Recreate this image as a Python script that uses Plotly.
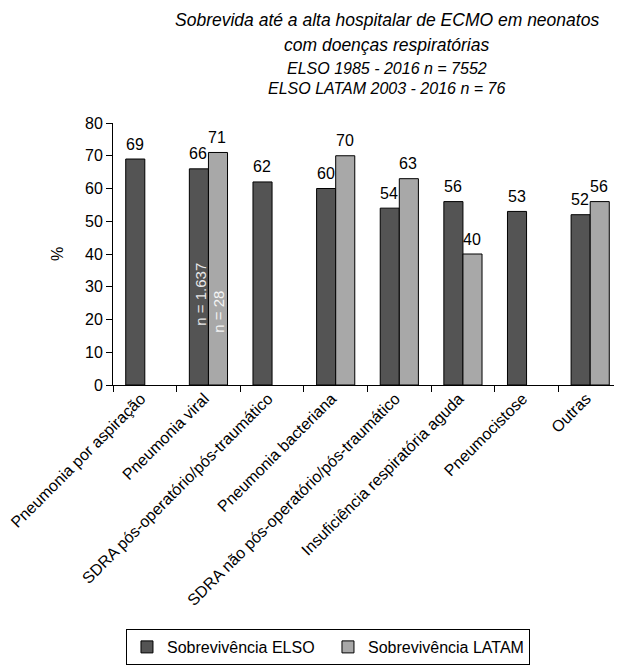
import plotly.graph_objects as go

categories = [
    "Pneumonia por aspiração",
    "Pneumonia viral",
    "SDRA pós-operatório/pós-traumático",
    "Pneumonia bacteriana",
    "SDRA não pós-operatório/pós-traumático",
    "Insuficiência respiratória aguda",
    "Pneumocistose",
    "Outras",
]
elso = [69, 66, 62, 60, 54, 56, 53, 52]
latam = [None, 71, None, 70, 63, 40, None, 56]
series_names = ["Sobrevivência ELSO", "Sobrevivência LATAM"]
n_labels = ["n = 1.637", "n = 28"]
y_ticks = [0, 10, 20, 30, 40, 50, 60, 70, 80]
title_lines = [
    "Sobrevida até a alta hospitalar de ECMO em neonatos",
    "com doenças respiratórias",
    "ELSO 1985 - 2016 n = 7552",
    "ELSO LATAM 2003 - 2016 n = 76",
]

FONT = "Liberation Sans, Arial, Helvetica, sans-serif"
DARK = "#545454"
LIGHT = "#a8a8a8"

fig = go.Figure()
fig.add_trace(go.Bar(x=categories, y=elso, name=series_names[0],
                     marker=dict(color=DARK, line=dict(color="black", width=1))))
fig.add_trace(go.Bar(x=categories, y=latam, name=series_names[1],
                     marker=dict(color=LIGHT, line=dict(color="black", width=1))))

annotations = []
for c, v in zip(categories, elso):
    annotations.append(dict(x=c, y=v, xref="x", yref="y", text=str(v), showarrow=False,
                            yanchor="bottom", xshift=-10, yshift=4.5,
                            font=dict(size=16, color="black", family=FONT)))
for c, v in zip(categories, latam):
    if v is None:
        continue
    annotations.append(dict(x=c, y=v, xref="x", yref="y", text=str(v), showarrow=False,
                            yanchor="bottom", xshift=9, yshift=4.5,
                            font=dict(size=16, color="black", family=FONT)))
# n labels inside bars of "Pneumonia viral"
annotations.append(dict(x=categories[1], y=27.7, xref="x", yref="y", text=n_labels[0],
                        showarrow=False, textangle=-90, xshift=-8,
                        font=dict(size=15, color="#e8e8e8", family=FONT)))
annotations.append(dict(x=categories[1], y=22.5, xref="x", yref="y", text=n_labels[1],
                        showarrow=False, textangle=-90, xshift=10,
                        font=dict(size=15, color="#f4f4f4", family=FONT)))

# title lines (italic)
title_y = [1.3916, 1.2966, 1.2091, 1.1331]
title_size = [17.5, 17.5, 16, 16]
for t, yy, s in zip(title_lines, title_y, title_size):
    annotations.append(dict(x=0.5383, y=yy, xref="paper", yref="paper", text=t,
                            showarrow=False, xanchor="center", yanchor="middle",
                            font=dict(size=s, color="black", family=FONT, style="italic")))

fig.update_layout(
    width=614, height=657,
    margin=dict(l=105, r=0, t=115, b=279),
    paper_bgcolor="white", plot_bgcolor="white",
    font=dict(family=FONT, size=16, color="black"),
    barmode="group", bargap=0.4, bargroupgap=0,
    showlegend=True,
    legend=dict(orientation="h", x=0.0255, y=-0.93, xanchor="left", yanchor="top",
                bordercolor="black", borderwidth=1, bgcolor="white",
                font=dict(size=16, family=FONT), entrywidth=156,
                traceorder="normal"),
    annotations=annotations,
)
fig.update_xaxes(type="category", showline=True, linecolor="black", linewidth=1,
                 ticks="outside", tickson="boundaries", ticklen=6, tickcolor="black",
                 tickangle=-45, showgrid=False, zeroline=False,
                 ticklabelshift=-4, ticklabelstandoff=-3,
                 tickfont=dict(size=16, family=FONT))
fig.update_yaxes(range=[0, 80], tickvals=y_ticks, showline=True, linecolor="black",
                 linewidth=1, ticks="outside", ticklen=6, tickcolor="black",
                 showgrid=False, zeroline=False,
                 title=dict(text="%", standoff=17, font=dict(size=16)),
                 tickfont=dict(size=16, family=FONT))

fig.write_html("out.html")
